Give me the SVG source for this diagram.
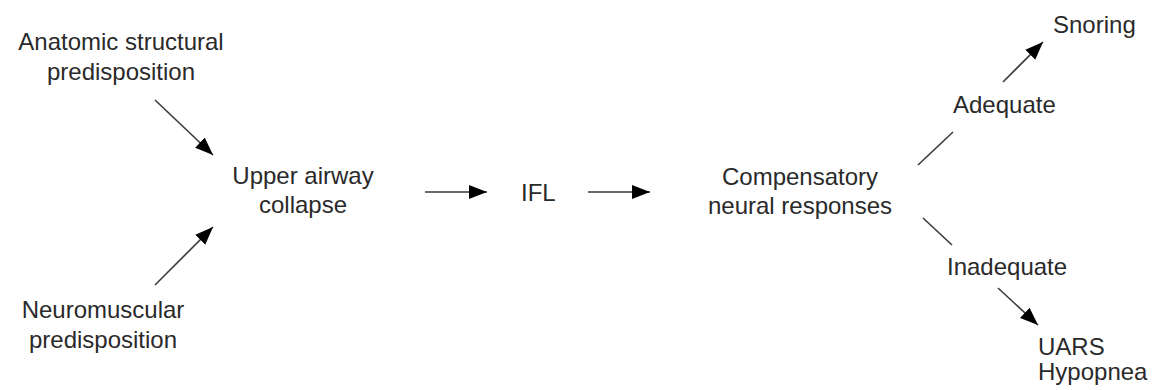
<svg xmlns="http://www.w3.org/2000/svg" width="1155" height="390" viewBox="0 0 1155 390">
  <style>
    .lbl { font-family: "Liberation Sans", Arial, sans-serif; font-size: 24px; fill: #2a2a2a; }
    .mid { text-anchor: middle; }
    .edge { stroke: #3a3a3a; stroke-width: 1.6; fill: none; }
  </style>
  <defs>
    <marker id="head" markerUnits="userSpaceOnUse" markerWidth="20" markerHeight="16" refX="18" refY="8" orient="auto">
      <path d="M0,1 L18,8 L0,15 Z" fill="#000"/>
    </marker>
  </defs>
  <rect width="1155" height="390" fill="#fff"/>

  <g id="anatomic">
    <text class="lbl mid" x="121" y="50">Anatomic structural</text>
    <text class="lbl mid" x="121" y="80">predisposition</text>
  </g>
  <g id="neuromuscular">
    <text class="lbl mid" x="103" y="318">Neuromuscular</text>
    <text class="lbl mid" x="103" y="348">predisposition</text>
  </g>
  <g id="collapse">
    <text class="lbl mid" x="303" y="184">Upper airway</text>
    <text class="lbl mid" x="303" y="213">collapse</text>
  </g>
  <g id="ifl">
    <text class="lbl" x="521" y="201">IFL</text>
  </g>
  <g id="compensatory">
    <text class="lbl mid" x="800" y="185">Compensatory</text>
    <text class="lbl mid" x="800" y="214">neural responses</text>
  </g>
  <g id="adequate">
    <text class="lbl" x="953" y="113">Adequate</text>
  </g>
  <g id="snoring">
    <text class="lbl" x="1053" y="33">Snoring</text>
  </g>
  <g id="inadequate">
    <text class="lbl" x="947" y="275">Inadequate</text>
  </g>
  <g id="uars">
    <text class="lbl" x="1038" y="355">UARS</text>
    <text class="lbl" x="1038" y="380">Hypopnea</text>
  </g>

  <g id="connectors">
    <line class="edge" x1="155" y1="100" x2="213" y2="155" marker-end="url(#head)"/>
    <line class="edge" x1="155" y1="285" x2="213" y2="227" marker-end="url(#head)"/>
    <line class="edge" x1="425" y1="192" x2="487" y2="192" marker-end="url(#head)"/>
    <line class="edge" x1="588" y1="192" x2="650" y2="192" marker-end="url(#head)"/>
    <line class="edge" x1="918" y1="165" x2="953" y2="132"/>
    <line class="edge" x1="1003" y1="82" x2="1043" y2="42" marker-end="url(#head)"/>
    <line class="edge" x1="923" y1="218" x2="952" y2="245"/>
    <line class="edge" x1="998" y1="288" x2="1038" y2="325" marker-end="url(#head)"/>
  </g>
</svg>
